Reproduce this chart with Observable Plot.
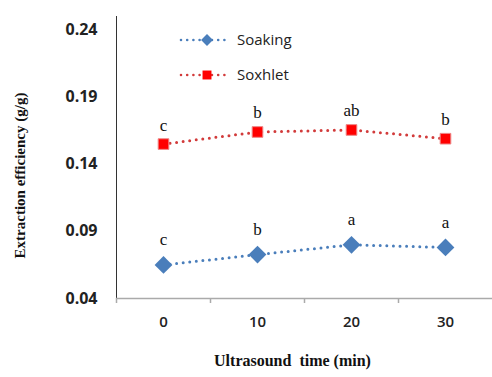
<!DOCTYPE html>
<html>
<head>
<meta charset="utf-8">
<script src="https://cdn.jsdelivr.net/npm/d3@7"></script>
<script src="https://cdn.jsdelivr.net/npm/@observablehq/plot@0.6"></script>
<style>
  html, body { margin: 0; padding: 0; background: #fff; }
  #wrap { position: relative; width: 492px; height: 377px; }
  #legend { position: absolute; left: 0; top: 0; pointer-events: none; }
</style>
</head>
<body>
<div id="wrap"></div>
<script>
const times = [0, 10, 20, 30];
const soaking = [0.065, 0.0727, 0.0800, 0.0780];
const soxhlet = [0.155, 0.164, 0.1655, 0.159];
const soakingLetters = ["c", "b", "a", "a"];
const soxhletLetters = ["c", "b", "ab", "b"];
const yTicks = [0.04, 0.09, 0.14, 0.19, 0.24];
const seriesNames = ["Soaking", "Soxhlet"];

const blue = "#4a7ebb";
const red = "#ff0000";
const redLine = "#d23b3b";

const soakData = times.map((t, i) => ({t, v: soaking[i], l: soakingLetters[i]}));
const soxData = times.map((t, i) => ({t, v: soxhlet[i], l: soxhletLetters[i]}));

const plot = Plot.plot({
  width: 492,
  height: 377,
  marginLeft: 116,
  marginRight: 0,
  marginTop: 16,
  marginBottom: 79,
  style: {background: "#fff", overflow: "visible"},
  x: {domain: [-5, 35]},
  y: {domain: [0.04, 0.25]},
  marks: [
    Plot.ruleX([-5], {stroke: "#333", strokeWidth: 1}),
    Plot.ruleY([0.04], {stroke: "#aaa", strokeWidth: 1.5}),
    Plot.axisX({ticks: [-5, 5, 15, 25], tickSize: 5, stroke: "#aaa", strokeWidth: 1.5, text: null, label: null}),
    Plot.axisX({ticks: times, tickSize: 0, tickPadding: 18, label: null,
      fontSize: 15, fontFamily: "Open Sans", fontWeight: 600, fill: "#222", style: "letter-spacing:0.8px"}),
    Plot.axisY({ticks: yTicks, tickSize: 0, tickPadding: 19, tickFormat: d3.format(".2f"), label: null,
      fontSize: 16, fontFamily: "Open Sans", fontWeight: 700, fill: "#222"}),
    Plot.line(soakData, {x: "t", y: "v", stroke: blue, strokeWidth: 3, strokeDasharray: "0,6.6", strokeLinecap: "round"}),
    Plot.line(soxData, {x: "t", y: "v", stroke: redLine, strokeWidth: 3, strokeDasharray: "0,6.6", strokeLinecap: "round"}),
    Plot.dot(soakData, {x: "t", y: "v", symbol: "diamond2", r: 8, fill: blue, stroke: "none"}),
    Plot.dot(soxData, {x: "t", y: "v", symbol: "square", r: 6, fill: red, stroke: "#e88", strokeWidth: 1}),
    Plot.text(soakData, {x: "t", y: "v", text: "l", dy: -25, fontSize: 17, fontFamily: "Liberation Serif", fill: "#111"}),
    Plot.text(soxData, {x: "t", y: "v", text: "l", dy: -19, fontSize: 17, fontFamily: "Liberation Serif", fill: "#111"}),
    Plot.text(["Extraction efficiency (g/g)"], {frameAnchor: "left", textAnchor: "middle", rotate: -90, dx: -96, dy: 18,
      fontSize: 15, fontWeight: 700, fontFamily: "Liberation Serif", fill: "#111", style: "letter-spacing:1.5px"}),
    Plot.text(["Ultrasound  time (min)"], {frameAnchor: "bottom", dy: 67, dx: -12,
      fontSize: 16, fontWeight: 700, fontFamily: "Liberation Serif", fill: "#111", style: "white-space:pre;letter-spacing:1.3px"})
  ]
});
document.getElementById("wrap").appendChild(plot);

// Legend overlay
const lg = d3.select("#wrap").append("svg").attr("id", "legend")
  .attr("width", 492).attr("height", 377);
const legendItems = [
  {name: seriesNames[0], color: blue, line: blue, sym: d3.symbolDiamond2, size: 90},
  {name: seriesNames[1], color: red, line: redLine, sym: d3.symbolSquare, size: 80}
];
legendItems.forEach((d, i) => {
  const g = lg.append("g").attr("transform", `translate(180,${40 + i * 35})`);
  g.append("line").attr("x1", 1).attr("x2", 48).attr("y1", 0).attr("y2", 0)
    .attr("stroke", d.line).attr("stroke-width", 2.6).attr("stroke-linecap", "round").attr("stroke-dasharray", "0,6.2");
  g.append("path").attr("d", d3.symbol(d.sym, d.size)()).attr("transform", "translate(27,0)").attr("fill", d.color);
  g.append("text").attr("x", 57).attr("y", 0).attr("dy", "0.35em")
    .attr("font-family", "Open Sans").attr("font-size", 15).attr("fill", "#222").text(d.name);
});
</script>
</body>
</html>
